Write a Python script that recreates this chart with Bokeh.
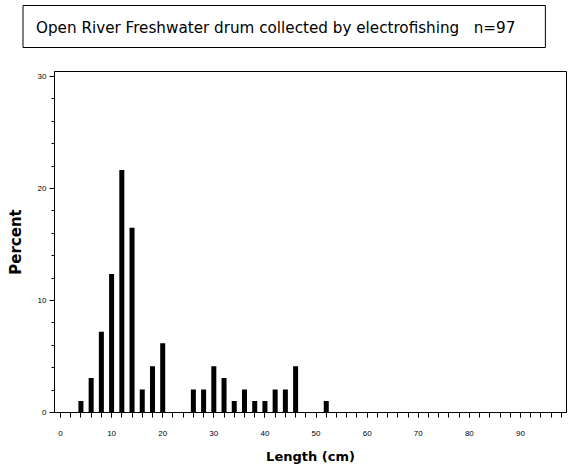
from bokeh.plotting import figure
from bokeh.models import ColumnDataSource, SingleIntervalTicker, Range1d, Title
from bokeh.embed import file_html
from bokeh.resources import INLINE

# Data (length class midpoints in cm, percent of fish)
lengths = [4, 6, 8, 10, 12, 14, 16, 18, 20, 26, 28, 30, 32, 34, 36, 38, 40, 42, 44, 46, 52]
percent = [1.03, 3.09, 7.22, 12.37, 21.65, 16.49, 2.06, 4.12, 6.19,
           2.06, 2.06, 4.12, 3.09, 1.03, 2.06, 1.03, 1.03, 2.06, 2.06, 4.12, 1.03]
title_text = "Open River Freshwater drum collected by electrofishing\u00a0\u00a0\u00a0n=97"
x_label = "Length (cm)"
y_label = "Percent"

TICK_FONT = "Liberation Sans"
FONT = "DejaVu Sans"

p = figure(width=570, height=475, output_backend="svg", toolbar_location=None,
           x_range=Range1d(-1.17, 99.0), y_range=Range1d(0, 30.45),
           min_border_left=54, min_border_right=4, min_border_top=71, min_border_bottom=63)
src = ColumnDataSource(dict(x=lengths, top=percent))
p.vbar(x="x", top="top", bottom=0, width=0.98, source=src, fill_color="black", line_color=None)

p.xgrid.visible = False
p.ygrid.visible = False
p.outline_line_color = "black"
p.outline_line_width = 1
p.background_fill_color = "white"
p.border_fill_color = "white"

p.xaxis.ticker = SingleIntervalTicker(interval=10, num_minor_ticks=5)
p.yaxis.ticker = SingleIntervalTicker(interval=10, num_minor_ticks=5)
for ax in (p.xaxis, p.yaxis):
    ax.axis_line_color = "black"
    ax.major_tick_line_color = "black"
    ax.minor_tick_line_color = "black"
    ax.major_tick_in = 0
    ax.minor_tick_in = 0
    ax.major_label_text_font = TICK_FONT
    ax.major_label_text_font_size = "8px"
    ax.major_label_text_color = "black"
    ax.axis_label_text_font = FONT
    ax.axis_label_text_font_style = "bold"
    ax.axis_label_text_color = "black"
p.xaxis.axis_label_text_font_size = "13px"
p.yaxis.axis_label_text_font_size = "15px"
p.xaxis.major_tick_out = 5
p.xaxis.minor_tick_out = 5
p.yaxis.major_tick_out = 5
p.yaxis.minor_tick_out = 3
p.xaxis.major_label_standoff = 13
p.yaxis.major_label_standoff = 3
p.xaxis.axis_label = x_label
p.yaxis.axis_label = y_label
p.xaxis.axis_label_standoff = 10
p.yaxis.axis_label_standoff = 10

# Spacer panel between the frame and the boxed title (closest to the frame)
p.add_layout(Title(text="\u00a0", text_font_size="1px", text_color="white",
                   standoff=21), "above")
# Boxed title above the plot
p.add_layout(Title(text=title_text, text_font=FONT, text_font_size="15.2px",
                   text_font_style="normal", text_color="black", align="left",
                   vertical_align="bottom", offset=-31.5, standoff=0,
                   border_line_color="black", border_line_width=1,
                   background_fill_color="white",
                   padding=dict(left=13, right=30, top=13, bottom=11)), "above")

open("out.html", "w").write(file_html(p, INLINE))
